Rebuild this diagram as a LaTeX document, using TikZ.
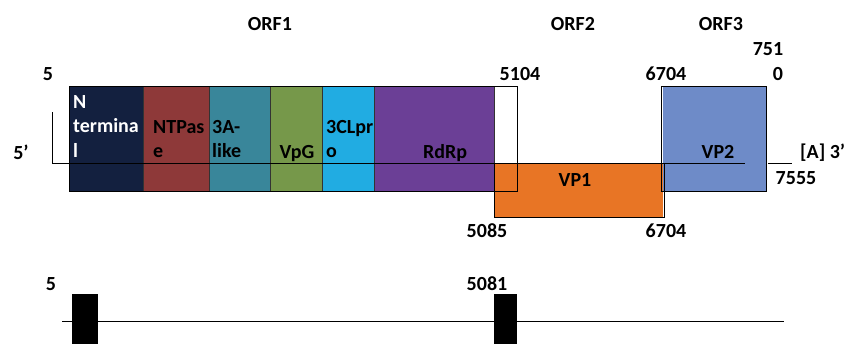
\documentclass[tikz,border=0pt]{standalone}
\usepackage{fontspec}
\setmainfont{Carlito}
\usepackage{tikz}
\usetikzlibrary{calc,positioning}

\definecolor{ntcol}{HTML}{13203F}
\definecolor{npcol}{HTML}{8E3939}
\definecolor{alcol}{HTML}{39869A}
\definecolor{vgcol}{HTML}{76984A}
\definecolor{clcol}{HTML}{21ACE2}
\definecolor{rdcol}{HTML}{6B3F96}
\definecolor{vponecol}{HTML}{E87525}
\definecolor{vptwocol}{HTML}{6E8BC8}

\begin{document}
\begin{tikzpicture}[x=1pt,y=-1pt,
  seg/.style={draw=black!80,line width=0.7pt,inner sep=0pt,outer sep=0pt,
    anchor=north west,minimum height=105pt},
  orfbox/.style={draw=black,line width=1pt,inner sep=0pt,outer sep=0pt,
    anchor=north west},
  lbl/.style={font=\bfseries\fontsize{20}{24.5}\selectfont,inner sep=0pt,anchor=base},
  seglbl/.style={lbl,anchor=base west,text width=72pt,align=left},
  bar/.style={fill=black,inner sep=0pt,outer sep=0pt,anchor=north west}]
  \useasboundingbox (0,0) rectangle (846,343);

  % ORF1 domains
  \node[seg,fill=ntcol,minimum width=74pt] (nterm) at (69,86) {};
  \node[seg,fill=npcol,minimum width=66pt] (ntpase) at (143,86) {};
  \node[seg,fill=alcol,minimum width=61pt] (alike) at (209,86) {};
  \node[seg,fill=vgcol,minimum width=52pt] (vpg) at (270,86) {};
  \node[seg,fill=clcol,minimum width=52pt] (clpro) at (322,86) {};
  \node[seg,fill=rdcol,minimum width=120pt] (rdrp) at (374,86) {};

  % ORF2 and ORF3
  \node[bar,fill=vponecol,minimum width=169pt,minimum height=54pt] (vpone) at (494,163) {};
  \node[bar,fill=vptwocol,minimum width=103pt,minimum height=105pt] (vptwo) at (663,86) {};

  % outlines
  \node[orfbox,minimum width=448pt,minimum height=105pt] (orfone) at (69,86) {};
  \node[orfbox,minimum width=170pt,minimum height=54pt] (orftwo) at (494,163) {};
  \node[orfbox,minimum width=105pt,minimum height=105pt] (orfthree) at (661,86) {};

  % genome line
  \coordinate (fiveend) at (52,112);
  \coordinate (gend) at (745,163);
  \coordinate (tailstart) at (768,163);
  \coordinate (tailend) at (792,163);
  \draw[line width=1pt] (fiveend) |- (gend);
  \draw[line width=1pt] (tailstart) -- (tailend);

  % domain labels
  \node[seglbl,text=white] (ntermtxt) at (73,108) {N\\termina\\l};
  \node[seglbl] (ntpasetxt) at (153,133) {NTPas\\e};
  \node[seglbl] (aliketxt) at (212,133) {3A-\\like};
  \node[lbl] (vpgtxt) at (297,158) {VpG};
  \node[seglbl] (clprotxt) at (326,133) {3CLpr\\o};
  \node[lbl] (rdrptxt) at (445,158) {RdRp};
  \node[lbl] (vponetxt) at (575,186) {VP1};
  \node[lbl] (vptwotxt) at (718,158) {VP2};

  % ORF titles and positions
  \node[lbl] (orfonetxt) at (270,30) {ORF1};
  \node[lbl] (orftwotxt) at (573,30) {ORF2};
  \node[lbl] (orfthreetxt) at (721,30) {ORF3};
  \node[lbl] (posfive) at (48,80) {5};
  \node[lbl] (posstart) at (21,159) {5’};
  \node[lbl] (posrdrp) at (520,80) {5104};
  \node[lbl] (posvptwo) at (666,80) {6704};
  \node[lbl] (posendA) at (768,55) {751};
  \node[lbl] (posendB) at (778,80) {0};
  \node[lbl,anchor=base west] (polya) at (800,158) {[A]\ 3’};
  \node[lbl] (posgenome) at (796,184) {7555};
  \node[lbl] (posvpone) at (487,237) {5085};
  \node[lbl] (posvponeend) at (666,237) {6704};

  % lower map
  \coordinate (lineL) at (62,321);
  \coordinate (lineR) at (784,321);
  \draw[line width=1pt] (lineL) -- (lineR);
  \node[bar,minimum width=26pt,minimum height=60pt] (barone) at (72,294) {};
  \node[bar,minimum width=23pt,minimum height=60pt] (bartwo) at (494,294) {};
  \node[lbl] (barfive) at (51,290) {5};
  \node[lbl] (barfivek) at (487,290) {5081};
\end{tikzpicture}
\end{document}
